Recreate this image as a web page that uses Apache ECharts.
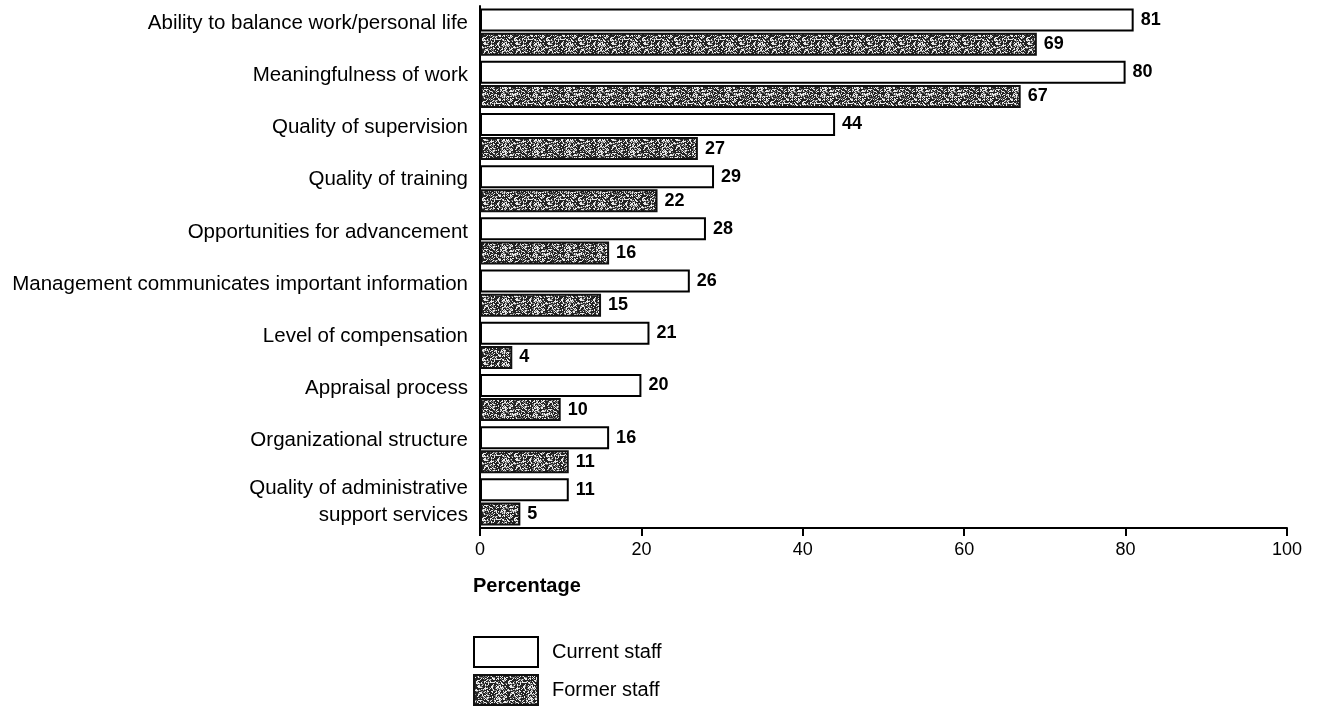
<!DOCTYPE html>
<html>
<head>
<meta charset="utf-8">
<script src="https://cdn.jsdelivr.net/npm/echarts@6/dist/echarts.min.js"></script>
<style>
  html, body { margin: 0; padding: 0; background: #fff; }
  #main { width: 1317px; height: 707px; }
</style>
</head>
<body>
<div id="main"></div>
<script>
var categories = [
    'Ability to balance work/personal life',
    'Meaningfulness of work',
    'Quality of supervision',
    'Quality of training',
    'Opportunities for advancement',
    'Management communicates important information',
    'Level of compensation',
    'Appraisal process',
    'Organizational structure',
    'Quality of administrative\nsupport services'
];
var currentStaff = [81, 80, 44, 29, 28, 26, 21, 20, 16, 11];
var formerStaff = [69, 67, 27, 22, 16, 15, 4, 10, 11, 5];

var FONT = '"Liberation Sans", Arial, sans-serif';

// speckled black/white fill like the scanned print
function makeTexture() {
    var size = 32;
    var c = document.createElement('canvas');
    c.width = size; c.height = size;
    var ctx = c.getContext('2d');
    var img = ctx.createImageData(size, size);
    for (var y = 0; y < size; y++) {
        for (var x = 0; x < size; x++) {
            var h = Math.abs(Math.sin(x * 12.9898 + y * 78.233) * 43758.5453) % 1;
            var g = h < 0.5 ? 35 : (h < 0.68 ? 125 : 235);
            var i = (y * size + x) * 4;
            img.data[i] = g; img.data[i + 1] = g; img.data[i + 2] = g; img.data[i + 3] = 255;
        }
    }
    ctx.putImageData(img, 0, 0);
    return c;
}

var chart = echarts.init(document.getElementById('main'));

var valueLabel = {
    show: true,
    position: 'right',
    distance: 7,
    color: '#000',
    fontFamily: FONT,
    fontWeight: 'bold',
    fontSize: 18
};

var option = {
    animation: false,
    backgroundColor: '#fff',
    textStyle: { fontFamily: FONT, color: '#000' },
    title: {
        text: 'Percentage',
        left: 473,
        top: 576,
        padding: 0,
        textStyle: { fontFamily: FONT, fontSize: 20, fontWeight: 'bold', color: '#000' }
    },
    legend: {
        orient: 'vertical',
        left: 473,
        top: 636,
        icon: 'rect',
        itemWidth: 64,
        itemHeight: 30,
        itemGap: 6,
        padding: 0,
        data: ['Current staff', 'Former staff'],
        textStyle: { fontFamily: FONT, fontSize: 20, color: '#000', padding: [0, 0, 0, 9] }
    },
    grid: { left: 480, right: 30, top: 6, bottom: 179 },
    xAxis: {
        type: 'value',
        min: 0,
        max: 100,
        interval: 20,
        splitLine: { show: false },
        axisLine: { show: true, lineStyle: { color: '#000', width: 2 } },
        axisTick: { show: true, length: 8, lineStyle: { color: '#000', width: 2 } },
        axisLabel: { margin: 13, fontSize: 18, color: '#000', fontFamily: FONT }
    },
    yAxis: {
        type: 'category',
        inverse: true,
        data: categories,
        axisLine: { show: true, lineStyle: { color: '#000', width: 2 } },
        axisTick: { show: false },
        axisLabel: {
            margin: 12,
            color: '#000',
            fontFamily: FONT,
            formatter: function (v) {
                var parts = v.split('\n');
                if (parts.length > 1) {
                    return parts.map(function (p) { return '{m|' + p + '}'; }).join('\n');
                }
                return '{s|' + v + '}';
            },
            rich: {
                s: { fontSize: 20.5, fontFamily: FONT, color: '#000', padding: [0, 0, 18, 0] },
                m: { fontSize: 20.5, fontFamily: FONT, color: '#000', lineHeight: 27 }
            }
        }
    },
    series: [
        {
            name: 'Current staff',
            type: 'bar',
            data: currentStaff,
            barWidth: 23,
            barGap: '5%',
            itemStyle: { color: '#fff', borderColor: '#000', borderWidth: 2 },
            label: valueLabel
        },
        {
            name: 'Former staff',
            type: 'bar',
            data: formerStaff,
            barWidth: 23,
            itemStyle: {
                color: { image: makeTexture(), repeat: 'repeat' },
                borderColor: '#111',
                borderWidth: 2
            },
            label: valueLabel
        }
    ]
};

chart.setOption(option);
</script>
</body>
</html>
